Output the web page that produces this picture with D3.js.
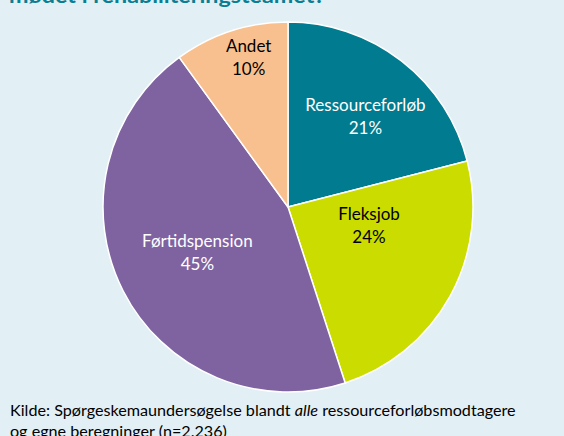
<!DOCTYPE html>
<html><head><meta charset="utf-8">
<script src="https://cdn.jsdelivr.net/npm/d3@7"></script>
<style>html,body{margin:0;padding:0;background:#e2eff4;}svg{display:block;}</style>
</head><body>
<svg id="c" width="564" height="436"></svg>
<script>
const categories = ["Ressourceforløb", "Fleksjob", "Førtidspension", "Andet"];
const values = [21, 24, 45, 10];
const colors = ["#017b8f", "#cadc00", "#7f63a1", "#f9c08f"];
const labelColors = ["#ffffff", "#000000", "#ffffff", "#000000"];
const titleText = "mødet i rehabiliteringsteamet?";
const sourceLine1 = ["Kilde: Spørgeskemaundersøgelse blandt ", "alle", " ressourceforløbsmodtagere"];
const sourceLine2 = "og egne beregninger (n=2.236)";

const svg = d3.select("#c");
const W = 564, H = 436;
svg.append("rect").attr("width", W).attr("height", H).attr("fill", "#e2eff4");

const cx = 288, cy = 207, R = 185;
// label placement: [fraction of slice angle, fraction of radius]
const labelPlace = [[0.54, 0.64], [0.32, 0.45], [0.50, 0.55], [0.59, 0.835]];

const pie = d3.pie().sort(null).value(d => d)(values);
const arc = d3.arc().innerRadius(0).outerRadius(R);
const g = svg.append("g").attr("transform", `translate(${cx},${cy})`);
g.selectAll("path").data(pie).join("path")
  .attr("d", arc)
  .attr("fill", (d, i) => colors[i])
  .attr("stroke", "#ffffff").attr("stroke-width", 1.5).attr("stroke-linejoin", "round");

const font = "Lato, 'Open Sans', sans-serif";
pie.forEach((d, i) => {
  const [fa, fr] = labelPlace[i];
  const a = d.startAngle + (d.endAngle - d.startAngle) * fa;
  const r = R * fr;
  const x = r * Math.sin(a), y = -r * Math.cos(a);
  const t = g.append("text")
    .attr("text-anchor", "middle").attr("font-family", font).attr("font-size", 17)
    .attr("fill", labelColors[i]);
  t.append("tspan").attr("x", x).attr("y", y - 6).text(categories[i]);
  t.append("tspan").attr("x", x).attr("y", y + 17).text(values[i] + "%");
});

svg.append("text").attr("x", 9).attr("y", 3)
  .attr("font-family", font).attr("font-weight", "bold").attr("font-size", 21)
  .attr("fill", "#0a7e93").attr("textLength", 316).attr("lengthAdjust", "spacingAndGlyphs")
  .text(titleText);

const s1 = svg.append("text").attr("x", 10).attr("y", 416)
  .attr("font-family", font).attr("font-size", 17).attr("fill", "#000000");
sourceLine1.forEach((p, i) => s1.append("tspan").attr("font-style", i === 1 ? "italic" : "normal").text(p));
const w1 = s1.node().getComputedTextLength();
const fs = 17 * 506 / w1;
s1.attr("font-size", fs);
svg.append("text").attr("x", 10).attr("y", 437)
  .attr("font-family", font).attr("font-size", fs).attr("fill", "#000000")
  .text(sourceLine2);
</script>
</body></html>
